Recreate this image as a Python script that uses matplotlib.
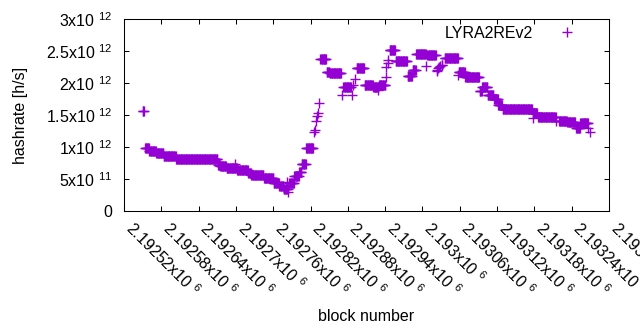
import numpy as np
import matplotlib
matplotlib.use("Agg")
from matplotlib import pyplot as plt

plt.rcParams["font.family"] = ["Liberation Sans", "DejaVu Sans"]
plt.rcParams["mathtext.fontset"] = "custom"
plt.rcParams["mathtext.rm"] = "Liberation Sans"
plt.rcParams["mathtext.it"] = "Liberation Sans:italic"
plt.rcParams["mathtext.default"] = "rm"

FS = 11.5

BLOCK0 = 2192520
# runs of consecutive blocks with the same estimated hashrate (offset from BLOCK0)
run_start = [30, 34, 41, 52, 64, 84, 151, 155, 165, 178, 182, 200, 205, 225,
             241, 250, 257, 264, 262, 266, 274, 282, 286, 293, 306, 307, 309,
             311, 312, 314, 316, 326, 331, 351, 353, 367, 368, 372, 374, 387,
             401, 408, 410, 421, 422, 424, 425, 427, 437, 456, 464, 470, 486,
             488, 503, 504, 505, 507, 509, 511, 516, 537, 538, 549, 572, 576,
             585, 595, 602, 609, 657, 658, 666, 695, 700, 713, 727, 734, 747,
             749]
run_end = [32, 40, 51, 63, 83, 150, 154, 164, 181, 178, 199, 204, 224, 240,
           249, 256, 263, 264, 262, 273, 281, 285, 292, 304, 306, 307, 309,
           311, 312, 314, 325, 330, 349, 351, 365, 367, 368, 372, 386, 400,
           409, 408, 420, 421, 422, 424, 425, 436, 455, 463, 469, 485, 486,
           501, 503, 504, 505, 507, 509, 512, 537, 537, 548, 571, 575, 584,
           594, 601, 608, 656, 664, 658, 694, 695, 712, 725, 733, 746, 747,
           749]
# hashrate in units of 1e12 h/s
run_value = [1.56, 0.99, 0.935, 0.90, 0.867, 0.82, 0.72, 0.70, 0.667, 0.73,
             0.648, 0.60, 0.5625, 0.51, 0.445, 0.39, 0.34, 0.30, 0.46, 0.44,
             0.54, 0.61, 0.73, 0.985, 1.23, 1.27, 1.40, 1.49, 1.53, 1.68, 2.37,
             2.175, 2.155, 1.81, 1.94, 1.81, 1.97, 2.07, 2.23, 1.97, 1.93, 1.89,
             1.97, 2.10, 2.245, 2.31, 2.36, 2.52, 2.34, 2.105, 2.20, 2.45, 2.27,
             2.435, 2.19, 2.21, 2.23, 2.25, 2.27, 2.28, 2.385, 2.125, 2.167,
             2.086, 1.88, 1.94, 1.82, 1.755, 1.656, 1.594, 1.527, 1.45, 1.474,
             1.406, 1.41, 1.385, 1.29, 1.37, 1.29, 1.23]

x_ticks = np.arange(BLOCK0, 2193300 + 1, 60)
y_ticks = [0, 0.5e12, 1e12, 1.5e12, 2e12, 2.5e12, 3e12]
y_labels = ["0", "5x10 $^{11}$", "1x10 $^{12}$", "1.5x10 $^{12}$",
            "2x10 $^{12}$", "2.5x10 $^{12}$", "3x10 $^{12}$"]

blocks = np.concatenate([np.arange(s, e + 1) for s, e in zip(run_start, run_end)]) + BLOCK0
rates = np.concatenate([np.full(e - s + 1, v) for s, e, v in
                        zip(run_start, run_end, run_value)]) * 1e12

fig = plt.figure(figsize=(6.4, 3.3), dpi=100)
ax = fig.add_axes([124 / 640, 1 - 211 / 330, 485 / 640, 192 / 330])

ax.plot(blocks, rates, linestyle="none", marker="+", color="#9400d3",
        markersize=6.5, markeredgewidth=1.0, label="LYRA2REv2")

ax.set_xlim(BLOCK0, 2193300)
ax.set_ylim(0, 3e12)
ax.set_yticks(y_ticks)
ax.set_yticklabels(y_labels)
ax.set_xticks(x_ticks)
ax.set_xticklabels([f"{t / 1e6:g}x10 $^{{6}}$" for t in x_ticks],
                   rotation=-45, ha="left", va="baseline", rotation_mode="anchor")

ax.tick_params(direction="in", length=3.5, width=0.75, top=True, right=True,
               labelsize=FS, colors="black")
ax.tick_params(axis="x", pad=13.7)
ax.tick_params(axis="y", pad=8.5)
for sp in ax.spines.values():
    sp.set_linewidth(0.75)

ax.set_ylabel("hashrate [h/s]", fontsize=FS)
ax.yaxis.set_label_coords(-0.198, 0.5)
ax.set_xlabel("block number", fontsize=FS)
ax.xaxis.set_label_coords(0.5, -0.51)

ax.legend(loc="center right", bbox_to_anchor=(0.947, 0.927), frameon=False,
          markerfirst=False, handlelength=2.0, handletextpad=1.125,
          borderpad=0, borderaxespad=0, fontsize=FS)

fig.savefig("out.png", dpi=100)
